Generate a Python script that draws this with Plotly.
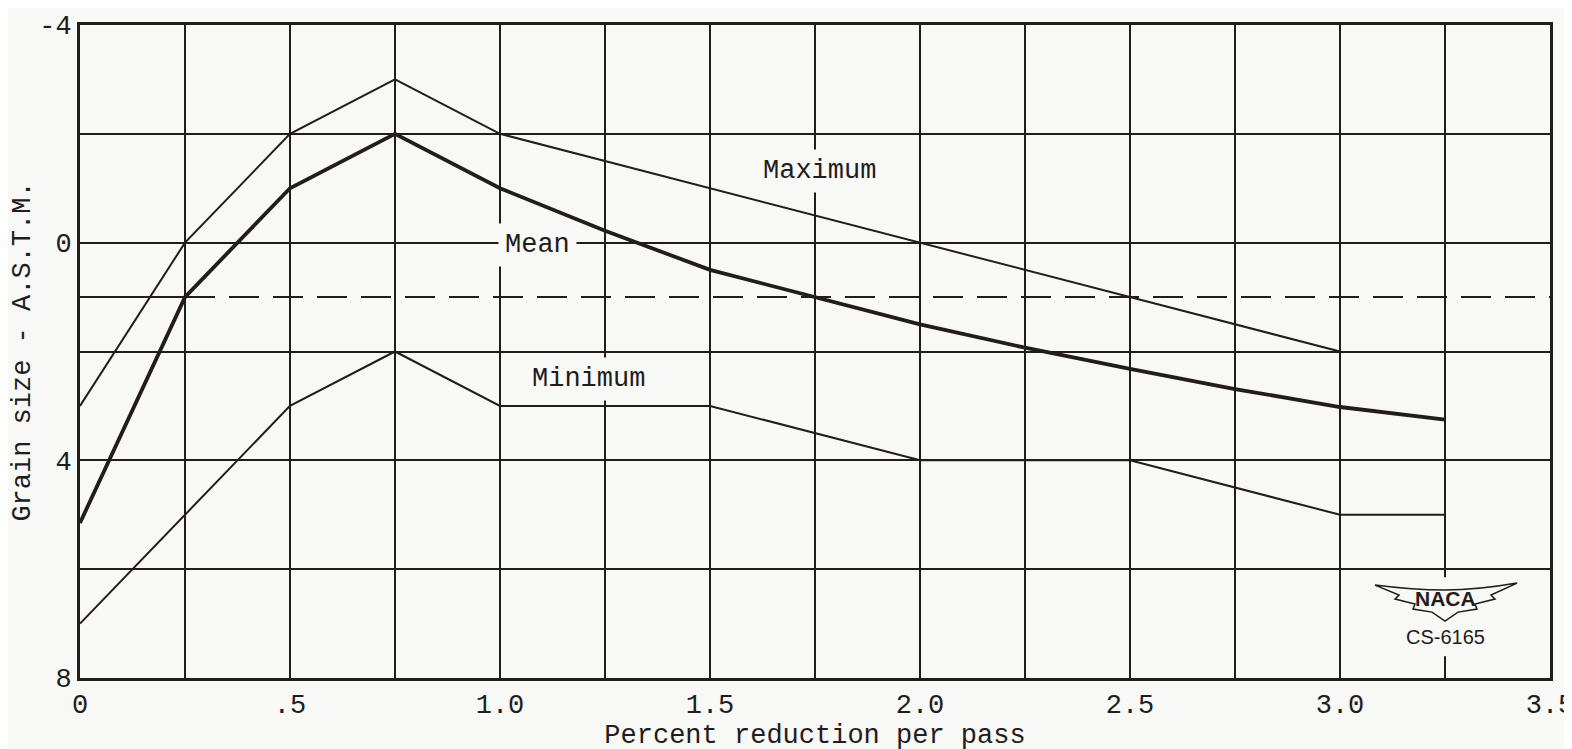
import plotly.graph_objects as go

# percent reduction per pass
X_MEAN = [0, 0.25, 0.5, 0.75, 1.0, 1.25, 1.5, 1.75, 2.0, 2.25, 2.5, 2.75, 3.0, 3.25]
Y_MEAN = [5.15, 1.0, -1.0, -2.0, -1.0, -0.22, 0.5, 1.0, 1.5, 1.93, 2.32, 2.69, 3.02, 3.25]

X_MAX = [0, 0.25, 0.5, 0.75, 1.0, 3.0]
Y_MAX = [3.0, 0.0, -2.0, -3.0, -2.0, 2.0]

X_MIN = [0, 0.25, 0.5, 0.75, 1.0, 1.5, 2.0, 2.5, 3.0, 3.25]
Y_MIN = [7.0, 5.0, 3.0, 2.0, 3.0, 3.0, 4.0, 4.0, 5.0, 5.0]

X_REF_SOLID = [0, 0.25]
X_REF_DASH = [0.25, 3.5]
Y_REF = [1.0, 1.0]

X_TICKS = [0, 0.25, 0.5, 0.75, 1.0, 1.25, 1.5, 1.75, 2.0, 2.25, 2.5, 2.75, 3.0, 3.25, 3.5]
X_TICKTEXT = ["0", "", ".5", "", "1.0", "", "1.5", "", "2.0", "", "2.5", "", "3.0", "", "3.5"]
Y_TICKS = [-4, -2, 0, 2, 4, 6, 8]
Y_TICKTEXT = ["-4", "", "0", "", "4", "", "8"]

INK = "#231c1c"
PAPER = "#f8f8f6"
FONT = "Liberation Mono, Courier New, monospace"
FS = 27

fig = go.Figure()

line_style = dict(color=INK, width=2)
fig.add_trace(go.Scatter(x=X_MAX, y=Y_MAX, mode="lines", line=line_style, name="Maximum"))
fig.add_trace(go.Scatter(x=X_MIN, y=Y_MIN, mode="lines", line=line_style, name="Minimum"))
fig.add_trace(go.Scatter(x=X_REF_SOLID, y=Y_REF, mode="lines", line=line_style))
fig.add_trace(go.Scatter(x=X_REF_DASH, y=Y_REF, mode="lines",
                         line=dict(color=INK, width=2, dash="30px,14px")))
fig.add_trace(go.Scatter(x=X_MEAN, y=Y_MEAN, mode="lines",
                         line=dict(color=INK, width=3.8), name="Mean"))

# curve labels (white box cuts the grid like in the original)
for txt, x, y in [("Maximum", 1.76, -1.32), ("Mean", 1.09, 0.05), ("Minimum", 1.21, 2.5)]:
    fig.add_annotation(x=x, y=y, text=txt, showarrow=False,
                       font=dict(family=FONT, size=FS, color=INK),
                       bgcolor=PAPER, borderpad=6)

# NACA logo
fig.add_shape(type="rect", x0=3.02, x1=3.48, y0=6.15, y1=7.6,
              fillcolor=PAPER, line_width=0, layer="above")
fig.add_shape(
    type="path", xref="x", yref="y", xsizemode="pixel", ysizemode="pixel",
    xanchor=3.25, yanchor=6.55,
    path=("M -70 14 Q -32 9 0 9 Q 32 9 72 16 L 46 4 L 50 0 L 30 -5 L 32 -10 "
          "L 13 -13 L 0 -22 L -13 -13 L -32 -10 L -30 -5 L -50 0 L -46 4 Z"),
    fillcolor=PAPER, line=dict(color=INK, width=1.5), layer="above",
)
fig.add_annotation(x=3.25, y=6.55, text="<b>NACA</b>", showarrow=False, yshift=1,
                   font=dict(family="Liberation Sans, Arial", size=21, color=INK))
fig.add_annotation(x=3.25, y=7.25, text="CS-6165", showarrow=False,
                   font=dict(family="Liberation Sans, Arial", size=20, color=INK))

fig.update_xaxes(
    range=[0, 3.5], tickvals=X_TICKS, ticktext=X_TICKTEXT, automargin=False,
    showgrid=True, gridcolor=INK, gridwidth=2, zeroline=False,
    showline=True, linecolor=INK, linewidth=3, mirror=True,
    tickfont=dict(family=FONT, size=FS, color=INK),
    title=dict(text="Percent reduction per pass", standoff=0,
               font=dict(family=FONT, size=FS, color=INK)),
)
fig.update_yaxes(
    range=[8, -4], tickvals=Y_TICKS, ticktext=Y_TICKTEXT, automargin=False,
    showgrid=True, gridcolor=INK, gridwidth=2, zeroline=False,
    showline=True, linecolor=INK, linewidth=3, mirror=True,
    tickfont=dict(family=FONT, size=FS, color=INK),
    title=dict(text="Grain size - A.S.T.M.", standoff=4,
               font=dict(family=FONT, size=FS, color=INK)),
)
# page body adds a few px, margins compensate
fig.update_layout(
    width=1572, height=749,
    margin=dict(l=72, r=30, t=17, b=79),
    paper_bgcolor=PAPER, plot_bgcolor=PAPER,
    showlegend=False,
)
fig.write_html("out.html")
